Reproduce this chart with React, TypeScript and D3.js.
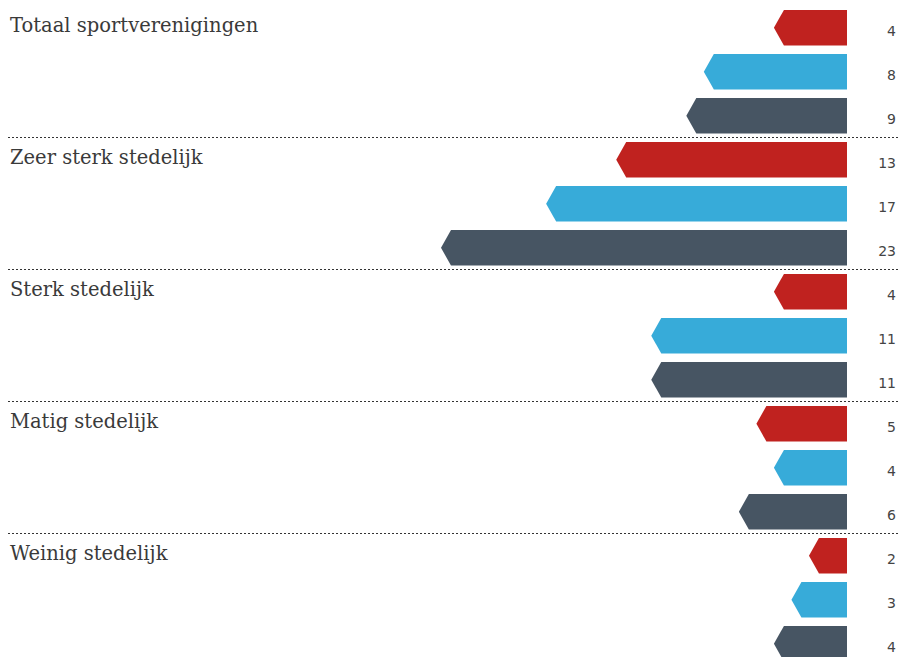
import * as d3 from "d3";
import React from "react";

const width = 899;
const height = 657;

const categories = [
  "Totaal sportverenigingen",
  "Zeer sterk stedelijk",
  "Sterk stedelijk",
  "Matig stedelijk",
  "Weinig stedelijk",
];
const seriesNames = ["a", "b", "c"];
const seriesColors = ["#c0221f", "#37abd9", "#475563"];
const values = [
  [4, 8, 9],
  [13, 17, 23],
  [4, 11, 11],
  [5, 4, 6],
  [2, 3, 4],
];

const barRight = 847;
const top = 10;
const step = 44;
const barHeight = 35.5;
const nose = 10;

const App = () => {
  const rows = categories.flatMap((cat, gi) =>
    seriesNames.map((s, si) => ({
      cat,
      gi,
      si,
      key: `${gi}-${si}`,
      value: values[gi][si],
    }))
  );

  // band scale over all 15 bars, step of 44px
  const yScale = d3
    .scaleBand()
    .domain(rows.map((d) => d.key))
    .range([top, top + step * (rows.length - 1) + barHeight])
    .paddingInner(1 - barHeight / step)
    .paddingOuter(0)
    .align(0);

  const xScale = d3.scaleLinear().domain([0, 23]).range([844, 441]);

  const barPath = (d) => {
    const y0 = yScale(d.key);
    const h = yScale.bandwidth();
    const xl = xScale(d.value);
    return `M${barRight},${y0}L${xl + nose},${y0}L${xl},${y0 + h / 2}L${xl + nose},${y0 + h}L${barRight},${y0 + h}Z`;
  };

  return (
    <svg
      width={width}
      height={height}
      style={{ position: "absolute", left: 0, top: 0 }}
    >
      {categories.slice(1).map((c, gi) => {
        const y = yScale(`${gi + 1}-0`) - 4.5;
        return (
          <line
            key={c}
            x1={8}
            x2={width}
            y1={y}
            y2={y}
            stroke="#333"
            strokeWidth={1}
            strokeDasharray="2,2"
          />
        );
      })}
      {categories.map((c, gi) => (
        <text
          key={c}
          x={10}
          y={yScale(`${gi}-0`) + 22}
          fontFamily="DejaVu Serif"
          fontSize={19.5}
          fill="#3a3a3a"
        >
          {c}
        </text>
      ))}
      {rows.map((d) => (
        <path key={d.key} d={barPath(d)} fill={seriesColors[d.si]} />
      ))}
      {rows.map((d) => (
        <text
          key={"t" + d.key}
          x={896}
          y={yScale(d.key) + 26}
          textAnchor="end"
          fontFamily="DejaVu Sans"
          fontSize={14}
          fill="#444"
        >
          {d.value}
        </text>
      ))}
    </svg>
  );
};

export default App;
